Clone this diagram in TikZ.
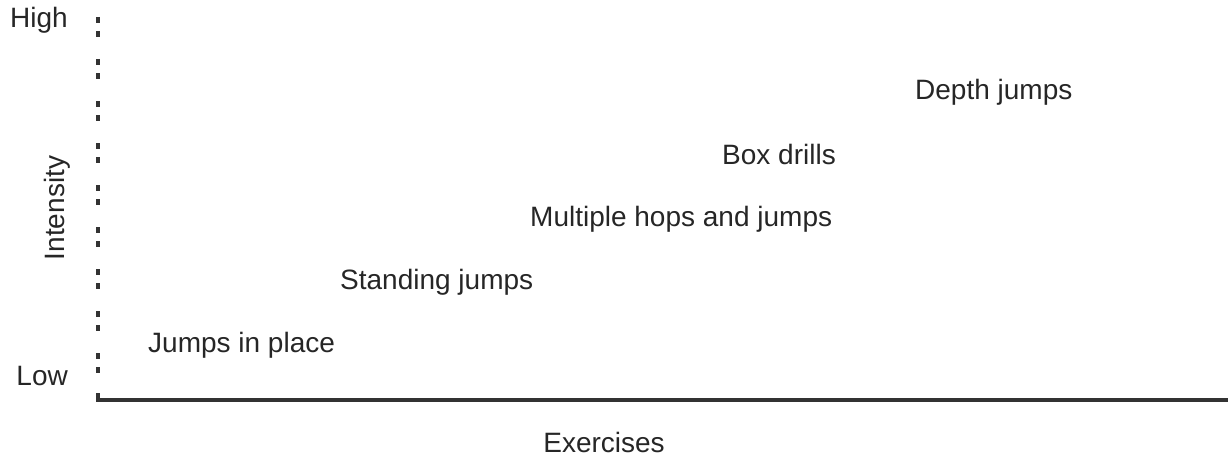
\documentclass[tikz,border=0pt]{standalone}
\usepackage{fontspec}
\setmainfont{Liberation Sans}
\begin{document}
\begin{tikzpicture}[x=1pt,y=-1pt,
  lbl/.style={inner sep=0pt,anchor=base west,text=black!85,font=\fontsize{28}{32}\selectfont},
  axisline/.style={draw=black!80,line width=3pt}]
\useasboundingbox (0,0) rectangle (1228,460);
% labels on the intensity scale
\node[lbl,anchor=base east] (high) at (68,28) {High};
\node[lbl,anchor=base east] (low) at (68,385) {Low};
\node[lbl,anchor=center,rotate=90] (intensity) at (57,208) {Intensity};
\node[lbl,anchor=base] (exercises) at (604,452) {Exercises};
% exercises
\node[lbl] (jip) at (148,352) {Jumps in place};
\node[lbl] (sj) at (340,289) {Standing jumps};
\node[lbl] (mhj) at (530,226) {Multiple hops and jumps};
\node[lbl] (bd) at (722,164) {Box drills};
\node[lbl] (dj) at (915,99) {Depth jumps};
% axes
\coordinate (ytop) at (98,17);
\coordinate (ybot) at (98,378);
\coordinate (corner0) at (98,393);
\coordinate (origin) at (98,400);
\coordinate (xend) at (1228,400);
\draw[axisline,line width=3.6pt,dash pattern=on 6pt off 8pt on 6pt off 22pt] (ytop) -- (ybot);
\draw[axisline,line width=3.2pt] (corner0) -- (origin) -- (xend);
\end{tikzpicture}
\end{document}
